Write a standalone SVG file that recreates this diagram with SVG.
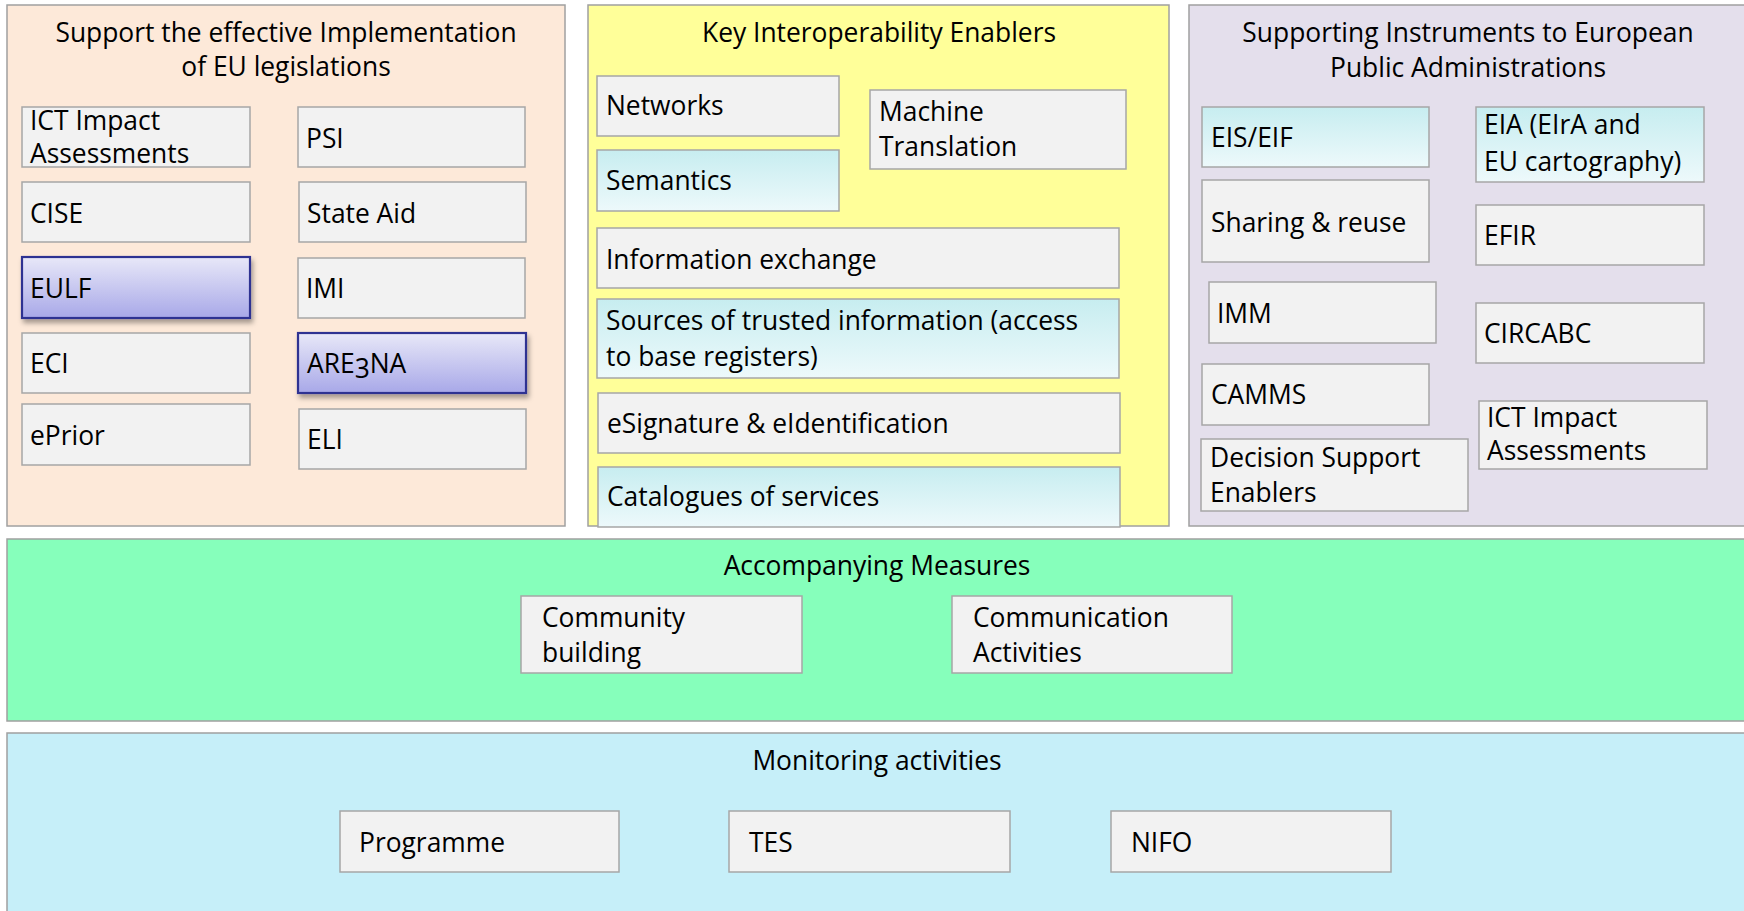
<svg xmlns="http://www.w3.org/2000/svg" width="1744" height="911" viewBox="0 0 1744 911">
<style>
text{font-family:"Open Sans","Noto Sans","Liberation Sans",sans-serif;font-size:26.4px;fill:#000}
.t{text-anchor:middle}
.panel{stroke:#A0A0A0;stroke-width:1.5}
.box{fill:#F2F2F2;stroke:#A6A6A6;stroke-width:1.5}
.cy{fill:url(#gc);stroke:#A6A6A6;stroke-width:1.5}
.bl{fill:url(#gb);stroke:#2E3192;stroke-width:2.2;filter:url(#sh)}
</style>
<defs>
<linearGradient id="gc" x1="0" y1="0" x2="0" y2="1"><stop offset="0" stop-color="#C7EDF0"/><stop offset="1" stop-color="#EDF9FB"/></linearGradient>
<linearGradient id="gb" x1="0" y1="0" x2="0" y2="1"><stop offset="0" stop-color="#E8E8F8"/><stop offset="1" stop-color="#A8A8E8"/></linearGradient>
<filter id="sh" x="-10%" y="-20%" width="125%" height="160%"><feDropShadow dx="2" dy="4" stdDeviation="2.5" flood-color="#000" flood-opacity="0.35"/></filter>
</defs>
<rect x="0" y="0" width="1744" height="911" fill="#FFFFFF"/>

<g id="panel-legislations">
<rect class="panel" x="7" y="5" width="558" height="521" fill="#FDE9D9"/>
<text class="t" x="286" y="42">Support the effective Implementation</text>
<text class="t" x="286" y="76">of EU legislations</text>
</g>
<g id="panel-enablers">
<rect class="panel" x="588" y="5" width="581" height="521" fill="#FFFF99"/>
<text class="t" x="879" y="42">Key Interoperability Enablers</text>
</g>
<g id="panel-instruments">
<rect class="panel" x="1189" y="5" width="570" height="521" fill="#E4DFEC"/>
<text class="t" x="1468" y="42">Supporting Instruments to European</text>
<text class="t" x="1468" y="77">Public Administrations</text>
</g>
<g id="band-accompanying">
<rect class="panel" x="7" y="539" width="1750" height="182" fill="#86FFBB"/>
<text class="t" x="877" y="575">Accompanying Measures</text>
</g>
<g id="band-monitoring">
<rect class="panel" x="7" y="733" width="1750" height="190" fill="#C6EFF9"/>
<text class="t" x="877" y="770">Monitoring activities</text>
</g>

<g id="n-ict1"><rect class="box" x="22" y="107" width="228" height="60"/><text x="30" y="130">ICT Impact</text><text x="30" y="163">Assessments</text></g>
<g id="n-psi"><rect class="box" x="298" y="107" width="227" height="60"/><text x="306" y="148">PSI</text></g>
<g id="n-cise"><rect class="box" x="22" y="182" width="228" height="60"/><text x="30" y="223">CISE</text></g>
<g id="n-stateaid"><rect class="box" x="299" y="182" width="227" height="60"/><text x="307" y="223">State Aid</text></g>
<g id="n-eulf"><rect class="bl" x="22" y="257" width="228" height="61"/><text x="30" y="298">EULF</text></g>
<g id="n-imi"><rect class="box" x="298" y="258" width="227" height="60"/><text x="306" y="298">IMI</text></g>
<g id="n-eci"><rect class="box" x="22" y="333" width="228" height="60"/><text x="30" y="373">ECI</text></g>
<g id="n-arena"><rect class="bl" x="298" y="333" width="228" height="60"/><text x="307" y="373">ARE<tspan dy="5">3</tspan><tspan dy="-5">NA</tspan></text></g>
<g id="n-eprior"><rect class="box" x="22" y="404" width="228" height="61"/><text x="30" y="445">ePrior</text></g>
<g id="n-eli"><rect class="box" x="299" y="409" width="227" height="60"/><text x="307" y="449">ELI</text></g>

<g id="n-networks"><rect class="box" x="597" y="76" width="242" height="60"/><text x="606" y="115">Networks</text></g>
<g id="n-semantics"><rect class="cy" x="597" y="150" width="242" height="61"/><text x="606" y="190">Semantics</text></g>
<g id="n-mt"><rect class="box" x="870" y="90" width="256" height="79"/><text x="879" y="121">Machine</text><text x="879" y="156">Translation</text></g>
<g id="n-infoex"><rect class="box" x="597" y="228" width="522" height="60"/><text x="606" y="269">Information exchange</text></g>
<g id="n-sources"><rect class="cy" x="597" y="299" width="522" height="79"/><text x="606" y="330">Sources of trusted information (access</text><text x="606" y="366">to base registers)</text></g>
<g id="n-esig"><rect class="box" x="598" y="393" width="522" height="60"/><text x="607" y="433">eSignature &amp; eIdentification</text></g>
<g id="n-catalogues"><rect class="cy" x="598" y="467" width="522" height="60"/><text x="607" y="506">Catalogues of services</text></g>

<g id="n-eis"><rect class="cy" x="1202" y="107" width="227" height="60"/><text x="1211" y="147">EIS/EIF</text></g>
<g id="n-eia"><rect class="cy" x="1476" y="107" width="228" height="75"/><text x="1484" y="134">EIA (EIrA and</text><text x="1484" y="171">EU cartography)</text></g>
<g id="n-sharing"><rect class="box" x="1202" y="180" width="227" height="82"/><text x="1211" y="232">Sharing &amp; reuse</text></g>
<g id="n-efir"><rect class="box" x="1476" y="205" width="228" height="60"/><text x="1484" y="245">EFIR</text></g>
<g id="n-imm"><rect class="box" x="1209" y="282" width="227" height="61"/><text x="1217" y="323">IMM</text></g>
<g id="n-circabc"><rect class="box" x="1476" y="303" width="228" height="60"/><text x="1484" y="343">CIRCABC</text></g>
<g id="n-camms"><rect class="box" x="1202" y="364" width="227" height="61"/><text x="1211" y="404">CAMMS</text></g>
<g id="n-dse"><rect class="box" x="1201" y="439" width="267" height="72"/><text x="1210" y="467">Decision Support</text><text x="1210" y="502">Enablers</text></g>
<g id="n-ict2"><rect class="box" x="1479" y="401" width="228" height="68"/><text x="1487" y="427">ICT Impact</text><text x="1487" y="460">Assessments</text></g>

<g id="n-community"><rect class="box" x="521" y="596" width="281" height="77"/><text x="542" y="627">Community</text><text x="542" y="662">building</text></g>
<g id="n-communication"><rect class="box" x="952" y="596" width="280" height="77"/><text x="973" y="627">Communication</text><text x="973" y="662">Activities</text></g>
<g id="n-programme"><rect class="box" x="340" y="811" width="279" height="61"/><text x="359" y="852">Programme</text></g>
<g id="n-tes"><rect class="box" x="729" y="811" width="281" height="61"/><text x="749" y="852">TES</text></g>
<g id="n-nifo"><rect class="box" x="1111" y="811" width="280" height="61"/><text x="1131" y="852">NIFO</text></g>

<g id="connectors"></g>
</svg>
